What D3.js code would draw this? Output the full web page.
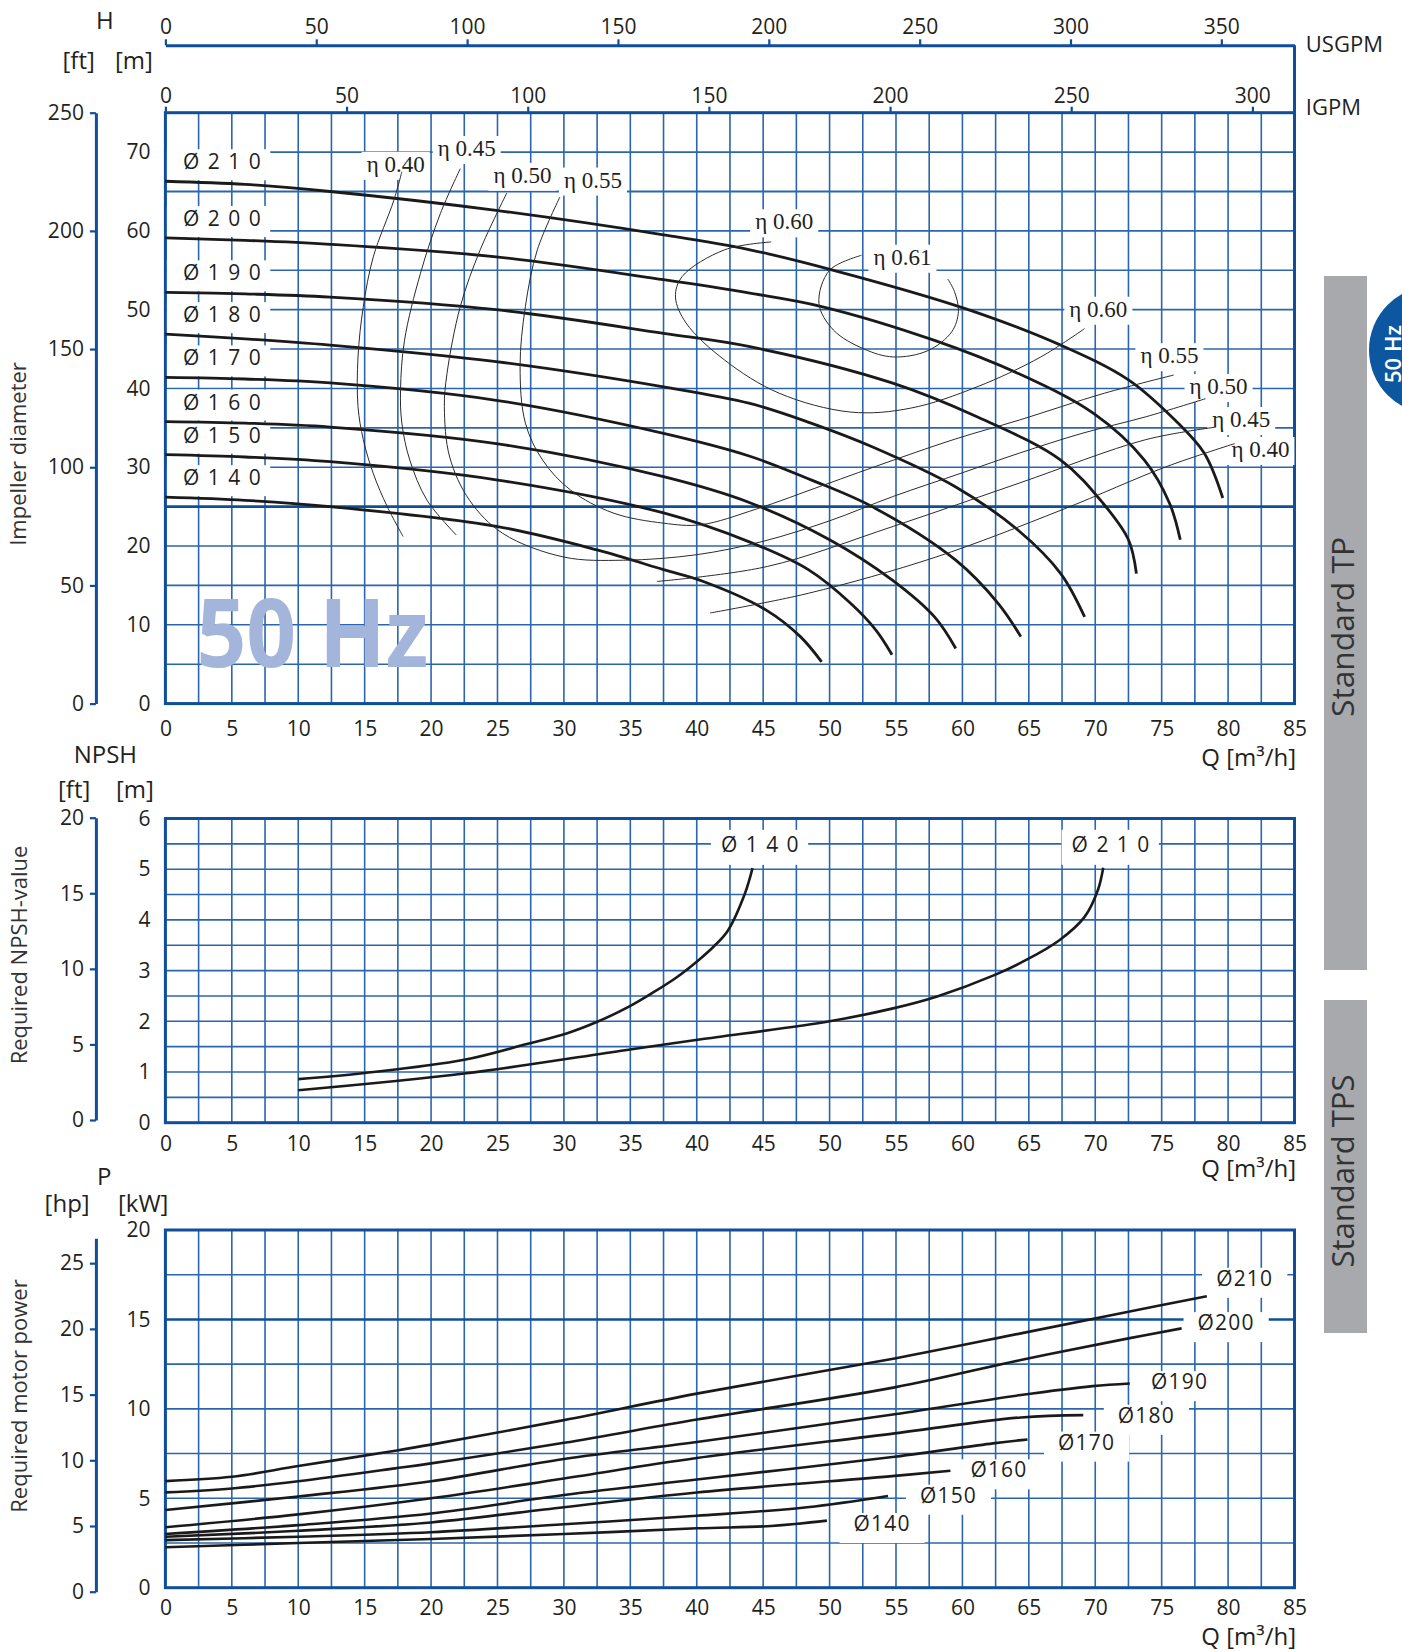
<!DOCTYPE html>
<html>
<head>
<meta charset="utf-8">
<script src="https://cdn.jsdelivr.net/npm/d3@7"></script>
<style>
body { margin: 0; background: #fff; }
</style>
</head>
<body>
<script>
// ---- data ----
var qTicks = [0, 5, 10, 15, 20, 25, 30, 35, 40, 45, 50, 55, 60, 65, 70, 75, 80, 85];
var usgpmTicks = [0, 50, 100, 150, 200, 250, 300, 350];
var igpmTicks = [0, 50, 100, 150, 200, 250, 300];
var headTicksM = [0, 10, 20, 30, 40, 50, 60, 70];
var headTicksFt = [0, 50, 100, 150, 200, 250];
var npshTicksM = [0, 1, 2, 3, 4, 5, 6];
var npshTicksFt = [0, 5, 10, 15, 20];
var powerTicksKw = [0, 5, 10, 15, 20];
var powerTicksHp = [0, 5, 10, 15, 20, 25];

var diameters = [210, 200, 190, 180, 170, 160, 150, 140];

// head H [m] vs Q [m3/h]
var head210 = [[0,66.3],[6,65.9],[12.4,65.0],[24.9,62.6],[37.5,59.5],[44,57.6],[50.3,55.0],[60.1,50.2],[67.4,45.5],[72.5,41.1],[76.0,36.0],[78.2,31.8],[79.6,26.1]];
var head200 = [[0,59.1],[6,58.8],[12.4,58.3],[24.9,56.7],[37.5,53.8],[44,52.1],[49.4,50.4],[57.9,46.1],[64.2,41.9],[69.9,36.8],[73.7,30.9],[75.6,25.4],[76.4,20.8]];
var head190 = [[0,52.2],[6,52.0],[12.4,51.6],[24.9,50.0],[37.5,47.0],[44,45.3],[54.7,40.7],[61.1,36.4],[67.4,30.9],[70.6,25.4],[72.5,20.8],[73.1,16.5]];
var head180 = [[0,46.9],[6,46.3],[12.4,45.5],[24.9,43.4],[37.5,40.2],[44,38.1],[48.6,35.6],[53.2,32.6],[59.5,27.5],[64.2,22.0],[67.4,16.5],[69.2,11.0]];
var head170 = [[0,41.4],[6,41.2],[12.4,40.7],[24.9,38.5],[37.5,34.3],[44,31.4],[48.6,28.4],[53.2,25.0],[59.5,18.2],[62.7,12.7],[64.4,8.5]];
var head160 = [[0,35.8],[6,35.6],[12.4,35.1],[24.9,33.0],[37.5,28.8],[44,25.5],[50,20.8],[54.7,15.7],[57.9,11.0],[59.5,7.0]];
var head150 = [[0,31.6],[6,31.3],[12.4,30.7],[24.9,28.4],[37.5,24.2],[44,20.5],[48.4,17.0],[51.6,12.7],[53.5,9.3],[54.7,6.2]];
var head140 = [[0,26.2],[6,25.8],[12.4,25.0],[24.9,22.5],[32.5,19.5],[37.5,17.0],[40.5,15.5],[45.2,11.9],[47.8,8.5],[49.4,5.3]];

// efficiency iso lines (Q, H)
var eta40L = [[17.8,67.5],[17.2,63.9],[15.65,56.7],[14.9,50.4],[14.5,44.0],[14.5,37.7],[14.9,33.5],[15.65,29.2],[16.7,25.0],[17.9,21.2]];
var eta45L = [[22.2,67.9],[20.7,62.2],[19.2,54.6],[18.0,46.1],[17.7,39.8],[17.8,35.6],[18.4,30.9],[19.7,25.8],[21.9,21.4]];
var eta50 = [[25.7,64.8],[23.7,57.6],[22.2,50.4],[21.2,41.9],[21.0,37.7],[21.4,31.3],[22.9,25.8],[25.4,21.6],[30.0,18.6],[34.5,18.2],[40.0,18.9],[45.0,20.6],[50.0,23.2],[54.8,26.3],[60.0,29.3],[64.3,31.8],[69.0,34.3],[73.8,36.4],[78.3,38.7]];
var eta55 = [[29.7,64.3],[28.0,57.6],[27.1,50.4],[26.7,42.8],[27.1,35.6],[28.4,30.9],[30.5,27.1],[33.7,24.2],[37.5,22.9],[40.3,22.7],[44.5,24.7],[49.5,27.7],[54.8,30.9],[59.5,33.6],[64.3,36.0],[70.7,39.4],[75.9,41.7]];
var eta60 = [[45.6,58.6],[42.1,57.6],[38.9,54.2],[38.4,51.6],[39.2,48.3],[42.1,43.6],[46.2,39.4],[51.6,37.0],[56.1,37.5],[61.1,40.2],[65.9,44.0],[69.2,47.6]];
var eta61 = [[52.4,56.9],[50.0,55.0],[49.2,50.8],[50.3,47.4],[52.6,45.0],[54.8,44.0],[57.4,44.8],[59.2,47.2],[59.7,49.8],[59.4,52.3],[58.9,53.9]];
var eta45R = [[37.0,15.5],[45.3,17.4],[54.8,22.5],[64.3,28.0],[73.8,33.5],[79.1,35.1]];
var eta40R = [[41.0,11.5],[48.4,14.0],[58.0,18.6],[67.5,24.6],[75.4,30.1],[80.5,33.0]];

// eta labels: text, left/baseline in (Q, H)
var etaLabels = [
  ["η 0.40", 15.15, 67.5], ["η 0.45", 20.5, 69.5], ["η 0.50", 24.7, 66.1], ["η 0.55", 30.0, 65.5],
  ["η 0.60", 44.4, 60.2], ["η 0.61", 53.3, 55.7], ["η 0.60", 68.05, 49.1], ["η 0.55", 73.4, 43.2],
  ["η 0.50", 77.1, 39.3], ["η 0.45", 78.8, 35.1], ["η 0.40", 80.25, 31.3]
];

// NPSH [m]
var npsh140 = [[10,0.86],[15,0.98],[22.5,1.24],[27.2,1.55],[30.2,1.76],[32.6,2.0],[34.9,2.29],[36.6,2.55],[38.5,2.87],[40.2,3.22],[41.3,3.48],[42.3,3.77],[43.6,4.5],[44.2,5.02]];
var npsh210 = [[10,0.64],[22.5,0.97],[34.6,1.43],[40.2,1.64],[50,2.0],[54.7,2.25],[58.1,2.49],[62.4,2.91],[64.8,3.21],[67.3,3.6],[69.2,4.06],[70.2,4.59],[70.6,5.03]];

// power P [kW]
var power210 = [[0,5.96],[5,6.2],[10,6.8],[17.3,7.66],[20,8.0],[30,9.37],[40,10.85],[54.9,12.82],[64.4,14.22],[72.5,15.43],[78.4,16.3]];
var power200 = [[0,5.33],[5,5.55],[10,5.95],[17.3,6.67],[20,6.95],[30,8.1],[40,9.4],[54.9,11.2],[64.4,12.73],[72.5,13.94],[76.5,14.5]];
var power190 = [[0,4.34],[10,5.1],[20,5.95],[30,7.2],[40,8.15],[54.9,9.7],[64.4,10.77],[69.8,11.27],[72.6,11.42]];
var power180 = [[0,3.38],[10,4.1],[20,5.0],[30,6.11],[40,7.25],[54.9,8.63],[64.4,9.52],[69.1,9.65]];
var power170 = [[0,3.0],[10,3.5],[20,4.15],[30,5.18],[40,6.05],[54.9,7.32],[62.3,8.07],[64.9,8.29]];
var power160 = [[0,2.85],[10,3.18],[20,3.65],[30,4.5],[40,5.32],[54.9,6.25],[59.1,6.54]];
var power150 = [[0,2.66],[10,2.85],[20,3.1],[30,3.55],[40,4.02],[48.3,4.5],[54.4,5.13]];
var power140 = [[0,2.26],[10,2.5],[20,2.72],[30,3.0],[40,3.32],[45.6,3.45],[49.8,3.75]];
// power label anchors (left, baseline) in (Q, kW)
var powerLabelPos = [[79.1,16.88],[77.7,14.4],[74.2,11.1],[71.7,9.22],[67.2,7.72],[60.6,6.17],[56.8,4.75],[51.8,3.17]];

var heads = [head210, head200, head190, head180, head170, head160, head150, head140];
var powers = [power210, power200, power190, power180, power170, power160, power150, power140];
var etas = [eta40L, eta45L, eta50, eta55, eta60, eta61, eta45R, eta40R];

// ---- layout ----
var font = '"Open Sans", "Noto Sans", sans-serif';
var ink = "#231f20";
var gridColor = "#2a66ad";
var frameColor = "#0f4f99";

var svg = d3.select("body").append("svg")
  .attr("width", 1402).attr("height", 1652)
  .style("font-family", font);

var x = d3.scaleLinear().domain([0, 85]).range([165.4, 1294.5]);
var xUS = d3.scaleLinear().domain([0, 85 * 4.4029]).range(x.range());
var xIG = d3.scaleLinear().domain([0, 85 * 3.6662]).range(x.range());
var yH = d3.scaleLinear().domain([0, 75]).range([703.6, 112.7]);
var yHft = d3.scaleLinear().domain([0, 250]).range([703.6, 112.7]);
var yN = d3.scaleLinear().domain([0, 6]).range([1122.7, 818.5]);
var yNft = d3.scaleLinear().domain([0, 20]).range([1120, 817.7]);
var yP = d3.scaleLinear().domain([0, 20]).range([1587.7, 1230]);
var yPhp = d3.scaleLinear().domain([0, 26.9]).range([1591.7, 1238.2]);

var gGrid = svg.append("g");
var gBox = svg.append("g");
var gCurve = svg.append("g");
var gText = svg.append("g");

function grid(yScale, step, thick, semi) {
  var y0 = yScale.range()[0], y1 = yScale.range()[1];
  var hv = d3.range(yScale.domain()[0], yScale.domain()[1] + 1e-6, step);
  var g = gGrid.append("g");
  g.selectAll("line.v").data(d3.range(0, 85.01, 2.5)).enter().append("line")
    .attr("x1", function(d){ return x(d); }).attr("x2", function(d){ return x(d); })
    .attr("y1", y0).attr("y2", y1)
    .attr("stroke", gridColor).attr("stroke-width", 1.6);
  g.selectAll("line.h").data(hv).enter().append("line")
    .attr("x1", x(0)).attr("x2", x(85))
    .attr("y1", function(d){ return yScale(d); }).attr("y2", function(d){ return yScale(d); })
    .attr("stroke", function(d){ return thick.indexOf(d) >= 0 ? frameColor : gridColor; })
    .attr("stroke-width", function(d){
      return thick.indexOf(d) >= 0 ? 2.6 : (semi.indexOf(d) >= 0 ? 2.0 : 1.6); });
  g.append("rect")
    .attr("x", x(0)).attr("y", y1)
    .attr("width", x(85) - x(0)).attr("height", y0 - y1)
    .attr("fill", "none").attr("stroke", frameColor).attr("stroke-width", 3);
}

grid(yH, 5, [25], [65]);
grid(yN, 0.5, [], []);
grid(yP, 2.5, [15], []);

function styleAxis(g, size) {
  g.attr("font-family", font).attr("font-size", size);
  g.selectAll("text").attr("fill", ink);
  g.selectAll(".tick line").attr("stroke", frameColor).attr("stroke-width", 2.2);
  g.select(".domain").attr("stroke", frameColor).attr("stroke-width", 3);
}

// Q axes (bottom of each panel)
[[yH, 17], [yN, 13], [yP, 12]].forEach(function(p) {
  var g = svg.append("g").attr("transform", "translate(0," + p[0].range()[0] + ")")
    .call(d3.axisBottom(x).tickValues(qTicks).tickSize(0).tickPadding(p[1]));
  g.select(".domain").remove();
  styleAxis(g, 21);
});

// metric y axes
[[yH, headTicksM], [yN, npshTicksM], [yP, powerTicksKw]].forEach(function(p) {
  var g = svg.append("g").attr("transform", "translate(" + x(0) + ",0)")
    .call(d3.axisLeft(p[0]).tickValues(p[1]).tickFormat(d3.format("d")).tickSize(0).tickPadding(15));
  g.select(".domain").remove();
  styleAxis(g, 21);
});

// imperial y axes
[[yHft, headTicksFt], [yNft, npshTicksFt], [yPhp, powerTicksHp]].forEach(function(p) {
  var g = svg.append("g").attr("transform", "translate(95.9,0)")
    .call(d3.axisLeft(p[0]).tickValues(p[1]).tickFormat(d3.format("d")).tickSize(6).tickSizeOuter(0).tickPadding(6));
  styleAxis(g, 21);
});

// top flow axes
var gUS = svg.append("g").attr("transform", "translate(0,45.3)")
  .call(d3.axisTop(xUS).tickValues(usgpmTicks).tickSize(6).tickSizeOuter(0).tickPadding(5));
styleAxis(gUS, 21);
gGrid.append("line").attr("x1", x(85)).attr("x2", x(85)).attr("y1", 45.3).attr("y2", yH(75))
  .attr("stroke", frameColor).attr("stroke-width", 3);
var gIG = svg.append("g").attr("transform", "translate(0," + yH(75) + ")")
  .call(d3.axisTop(xIG).tickValues(igpmTicks).tickSize(6).tickSizeOuter(0).tickPadding(4));
gIG.select(".domain").remove();
styleAxis(gIG, 21);

// watermark
gText.append("text").attr("x", 196.4).attr("y", 666.7)
  .attr("font-size", 95).attr("font-weight", 700).attr("fill", "#a3b5db")
  .attr("textLength", 232).attr("lengthAdjust", "spacingAndGlyphs")
  .text("50 Hz");

// white box behind a label
function boxFor(t, padL, padR, top, bottom, baseline, left) {
  var b = t.node().getBBox();
  var x0 = left != null ? left : b.x - padL;
  gBox.append("rect").attr("x", x0).attr("y", baseline - top)
    .attr("width", b.x + b.width + padR - x0).attr("height", top + bottom)
    .attr("fill", "#fff");
}

// curves
var smoothCurve = d3.curveCatmullRom.alpha(0.5);
var headLine = d3.line().x(function(d){ return x(d[0]); }).y(function(d){ return yH(d[1]); }).curve(smoothCurve);

gCurve.selectAll("path.head").data(heads).enter().append("path")
  .attr("d", headLine)
  .attr("fill", "none").attr("stroke", "#1a1a1a").attr("stroke-width", 2.8);

gCurve.selectAll("path.eta").data(etas).enter().append("path")
  .attr("d", headLine)
  .attr("fill", "none").attr("stroke", "#2b2b2b").attr("stroke-width", 1);

var npshLine = d3.line().x(function(d){ return x(d[0]); }).y(function(d){ return yN(d[1]); }).curve(smoothCurve);
gCurve.selectAll("path.npsh").data([npsh140, npsh210]).enter().append("path")
  .attr("d", npshLine).attr("fill", "none").attr("stroke", "#1a1a1a").attr("stroke-width", 2.6);

var powerLine = d3.line().x(function(d){ return x(d[0]); }).y(function(d){ return yP(d[1]); }).curve(smoothCurve);
gCurve.selectAll("path.power").data(powers).enter().append("path")
  .attr("d", powerLine).attr("fill", "none").attr("stroke", "#1a1a1a").attr("stroke-width", 2.6);

// head curve labels
heads.forEach(function(c, i) {
  var base = yH(c[0][1]) - 12;
  var t = gText.append("text").attr("x", x(0) + 17.6).attr("y", base)
    .attr("font-size", 21).attr("letter-spacing", 1.5).attr("fill", ink)
    .text("Ø " + String(diameters[i]).split("").join(" "));
  boxFor(t, 0, 8, 20, 11, base, x(0) + 1.5);
});

// eta labels
etaLabels.forEach(function(l) {
  var base = yH(l[2]);
  var t = gText.append("text").attr("x", x(l[1])).attr("y", base)
    .attr("font-family", '"Liberation Serif", "Times New Roman", serif')
    .attr("font-size", 23).attr("fill", ink).text(l[0]);
  boxFor(t, 5, 5, 20, 8, base);
});

// NPSH labels
[[npsh140, 140], [npsh210, 210]].forEach(function(p) {
  var end = p[0][p[0].length - 1];
  var base = yN(5.5) + 8;
  var t = gText.append("text").attr("x", x(end[0]) + 8).attr("y", base)
    .attr("text-anchor", "middle").attr("font-size", 21).attr("letter-spacing", 1.5).attr("fill", ink)
    .text("Ø " + String(p[1]).split("").join(" "));
  boxFor(t, 10, 8, 22, 13, base);
});

// power labels
powerLabelPos.forEach(function(p, i) {
  var base = yP(p[1]);
  var t = gText.append("text").attr("x", x(p[0])).attr("y", base)
    .attr("font-size", 21).attr("letter-spacing", 1.2).attr("fill", ink)
    .text("Ø" + diameters[i]);
  boxFor(t, 14, 14, 18, 12, base);
});

// titles
function label(txt, xx, yy, size, anchor) {
  return gText.append("text").attr("x", xx).attr("y", yy).attr("font-size", size)
    .attr("fill", ink).attr("text-anchor", anchor || "start").text(txt);
}
label("H", 96, 28.5, 24);
label("[ft]", 62.5, 68.5, 24);
label("[m]", 115, 68.5, 24);
label("USGPM", 1305.8, 51.5, 22);
label("IGPM", 1305.8, 115, 22);
label("Q [m³/h]", 1296, 766, 24, "end");
label("NPSH", 73.7, 763.3, 24);
label("[ft]", 58, 798, 24);
label("[m]", 116, 798, 24);
label("Q [m³/h]", 1296, 1177, 24, "end");
label("P", 97, 1185, 24);
label("[hp]", 44.6, 1211.5, 24);
label("[kW]", 118, 1211.5, 24);
label("Q [m³/h]", 1296, 1645, 24, "end");

function vlabel(txt, xx, yy, size, color, len) {
  var t = gText.append("text").attr("transform", "translate(" + xx + "," + yy + ") rotate(-90)")
    .attr("text-anchor", "middle").attr("font-size", size).attr("fill", color).text(txt);
  if (len) t.attr("textLength", len).attr("lengthAdjust", "spacingAndGlyphs");
  return t;
}
vlabel("Impeller diameter", 26.3, 454, 22, "#333");
vlabel("Required NPSH-value", 26.5, 955, 22, "#333");
vlabel("Required motor power", 26.5, 1396, 22, "#333");

// side tabs
gGrid.append("rect").attr("x", 1324).attr("y", 276).attr("width", 43).attr("height", 694).attr("fill", "#a7a9ac");
gGrid.append("rect").attr("x", 1324).attr("y", 1000).attr("width", 43).attr("height", 333).attr("fill", "#a7a9ac");
vlabel("Standard TP", 1354, 627, 31, "#333", 180);
vlabel("Standard TPS", 1354, 1171, 31, "#333", 193);

gGrid.append("circle").attr("cx", 1433).attr("cy", 350).attr("r", 64).attr("fill", "#0c579f");
vlabel("50 Hz", 1401, 354, 22, "#fff").attr("font-weight", 600);
</script>
</body>
</html>
